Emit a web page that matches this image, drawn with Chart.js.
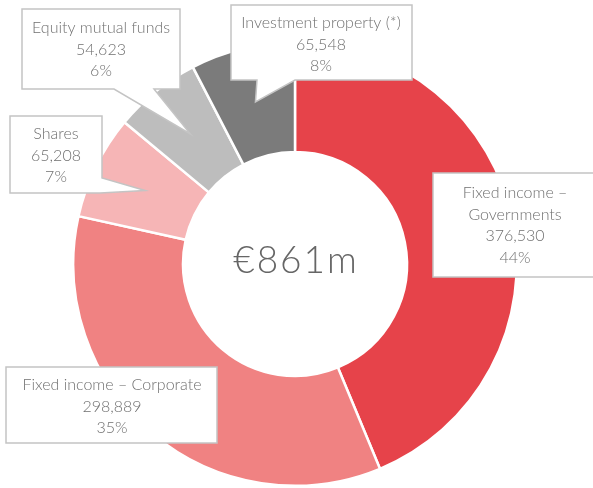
<!DOCTYPE html>
<html>
<head>
<meta charset="utf-8">
<script src="https://cdn.jsdelivr.net/npm/chart.js@4"></script>
<style>
  html, body { margin: 0; padding: 0; background: #fff; }
  canvas { display: block; }
</style>
</head>
<body>
<canvas id="portfolioChart" width="593" height="488"></canvas>
<script>
// Portfolio breakdown (thousand EUR), clockwise from 12 o'clock
const categories = [
    ['Fixed income \u2013', 'Governments'],
    ['Fixed income \u2013 Corporate'],
    ['Shares'],
    ['Equity mutual funds'],
    ['Investment property (*)']
];
const amounts = [376530, 298889, 65208, 54623, 65548];
const shareLabels = ['44%', '35%', '7%', '6%', '8%'];
const totalLabel = '\u20ac861m';
const sliceColors = ['#e6434a', '#f08282', '#f6b5b6', '#bdbdbd', '#7b7b7b'];

// Callout boxes: rectangle plus optional pointer notch (edge + two base coords)
const callouts = [
    { x: 433, y: 173, w: 170, h: 104, cx: 515, ty: 193 },
    { x: 6, y: 367, w: 211, h: 76, cx: 112, ty: 385 },
    { x: 10, y: 116, w: 92, h: 77, cx: 56, ty: 134, edge: 'right', a1: 178, a2: 193 },
    { x: 22, y: 9, w: 158, h: 80, cx: 101, ty: 28, edge: 'bottom', a1: 114, a2: 154 },
    { x: 231, y: 5, w: 181, h: 75, cx: 321, ty: 23, edge: 'bottom', a1: 257, a2: 295 }
];

const fmt = new Intl.NumberFormat('en-US');

const calloutPlugin = {
    id: 'callouts',
    afterDatasetsDraw(chart) {
        const ctx = chart.ctx;
        const arcs = chart.getDatasetMeta(0).data;
        const first = arcs[0];

        // centre total
        ctx.save();
        ctx.fillStyle = '#666';
        ctx.font = '300 37px Lato';
        ctx.letterSpacing = '2px';
        ctx.textAlign = 'center';
        ctx.textBaseline = 'middle';
        ctx.fillText(totalLabel, first.x + 1, first.y - 3);
        ctx.restore();

        callouts.forEach((c, i) => {
            const tip = arcs[i].tooltipPosition();
            ctx.save();
            ctx.beginPath();
            ctx.moveTo(c.x, c.y);
            ctx.lineTo(c.x + c.w, c.y);
            if (c.edge === 'right') {
                ctx.lineTo(c.x + c.w, c.a1);
                ctx.lineTo(tip.x, tip.y);
                ctx.lineTo(c.x + c.w - 2, c.a2);
                ctx.lineTo(c.x + c.w, c.y + c.h);
            } else {
                ctx.lineTo(c.x + c.w, c.y + c.h);
                if (c.edge === 'bottom') {
                    ctx.lineTo(c.a2, c.y + c.h);
                    ctx.lineTo(tip.x, tip.y);
                    ctx.lineTo(c.a1, c.y + c.h);
                }
            }
            ctx.lineTo(c.x, c.y + c.h);
            ctx.closePath();
            ctx.fillStyle = '#fff';
            ctx.fill();
            ctx.strokeStyle = '#c4c4c4';
            ctx.lineWidth = 1.5;
            ctx.stroke();

            const lines = categories[i].concat([fmt.format(amounts[i]), shareLabels[i]]);
            ctx.fillStyle = '#707070';
            ctx.font = '300 16px Lato';
            ctx.textAlign = 'center';
            ctx.textBaseline = 'middle';
            lines.forEach((t, k) => ctx.fillText(t, c.cx, c.ty + k * 21.5));
            ctx.restore();
        });
    }
};

const chart = new Chart(document.getElementById('portfolioChart'), {
    type: 'doughnut',
    data: {
        labels: categories.map(l => l.join(' ')),
        datasets: [{
            data: amounts,
            backgroundColor: sliceColors,
            borderColor: '#fff',
            borderWidth: 2.5
        }]
    },
    options: {
        responsive: false,
        animation: false,
        devicePixelRatio: 1,
        cutout: '50.5%',
        layout: { padding: { left: 72, right: 75, top: 41, bottom: 1 } },
        plugins: {
            legend: { display: false },
            tooltip: { enabled: false }
        }
    },
    plugins: [calloutPlugin]
});
</script>
</body>
</html>
